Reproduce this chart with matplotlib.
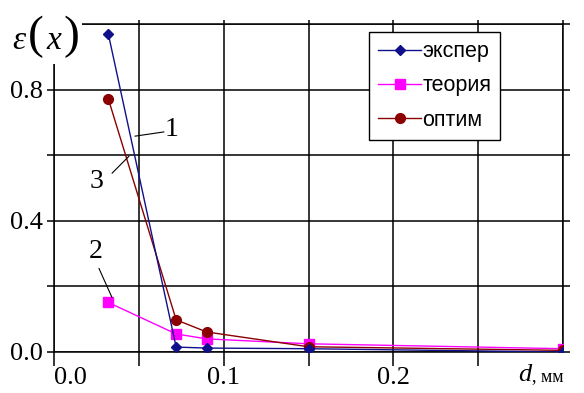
import matplotlib
matplotlib.use("Agg")
import matplotlib.pyplot as plt
from matplotlib.patches import Rectangle

# data
d_mm = [0.032, 0.072, 0.09, 0.15, 0.30]
eksper = [0.97, 0.015, 0.012, 0.01, 0.0]
teoria = [0.151, 0.055, 0.04, 0.025, 0.01]
optim = [0.772, 0.098, 0.061, 0.016, 0.005]
series_names = ["экспер", "теория", "оптим"]
xticks = [0.0, 0.05, 0.1, 0.15, 0.2, 0.25, 0.3]
xticklabels = ["0.0", "", "0.1", "", "0.2", "", ""]
yticks = [0.0, 0.2, 0.4, 0.6, 0.8, 1.0]
yticklabels = ["0.0", "", "0.4", "", "0.8", ""]

serif = ["Liberation Serif", "DejaVu Serif"]
sans = ["Liberation Sans", "DejaVu Sans"]

W, H = 584, 393
fig = plt.figure(figsize=(5.84, 3.93), dpi=100)
ax = fig.add_axes([54/W, 41/H, 509/W, 328/H])

ax.plot(d_mm, eksper, color="#10108a", lw=1.0, marker="D", ms=5.5, label=series_names[0], zorder=4)
ax.plot(d_mm, teoria, color="#ff00ff", lw=1.0, marker="s", ms=6.5, label=series_names[1], zorder=3)
ax.plot(d_mm, optim, color="#8b0000", lw=1.0, marker="o", ms=7, label=series_names[2], zorder=3)

ax.set_xlim(0, 0.3)
ax.set_ylim(0, 1.0)
ax.set_xticks(xticks)
ax.set_xticklabels(xticklabels, family=serif, fontsize=19)
ax.set_yticks(yticks)
ax.set_yticklabels(yticklabels, family=serif, fontsize=19)
ax.get_xticklabels()[0].set_horizontalalignment("left")
ax.grid(True, color="black", lw=1.1)
for s in ax.spines.values():
    s.set_linewidth(1.1)
ax.tick_params(axis="x", which="both", direction="out", width=1.1, top=True, pad=1)
ax.tick_params(axis="x", which="major", length=10)
ax.tick_params(axis="y", which="both", direction="out", length=5, width=1.1, right=True, pad=3)
for t in ax.xaxis.get_major_ticks():
    t.tick2line.set_markersize(3)
ax.xaxis.get_major_ticks()[-1].tick1line.set_visible(False)

leg = ax.legend(loc="upper left", bbox_to_anchor=((369-54)/509, (352-32)/328),
                prop={"family": sans, "size": 15.5}, frameon=True, fancybox=False,
                edgecolor="black", framealpha=1, handlelength=2.0, labelspacing=0.62,
                borderpad=0.42, handletextpad=0.05, borderaxespad=0)
leg.get_frame().set_linewidth(1.0)

# annotations: number labels and leader lines
lbl = dict(family=serif, fontsize=20, ha="center", va="center")
ax.text(0.0695, 0.677, "1", **lbl)
ax.text(0.0253, 0.52, "3", **lbl)
ax.text(0.0247, 0.305, "2", **lbl)
lead = dict(arrowstyle="-", color="black", lw=0.8, shrinkA=0, shrinkB=0)
ax.annotate("", xy=(0.0477, 0.658), xytext=(0.0648, 0.671), arrowprops=lead)
ax.annotate("", xy=(0.0442, 0.597), xytext=(0.0342, 0.545), arrowprops=lead)
ax.annotate("", xy=(0.0342, 0.166), xytext=(0.0265, 0.255), arrowprops=lead)

# y label: epsilon(x) with tall parentheses on a white patch
fig.patches.append(Rectangle((6/W, 1 - 64/H), 76/W, 52/H, transform=fig.transFigure,
                             facecolor="white", edgecolor="none", zorder=5))
ytxt = dict(ha="center", va="center", zorder=6)
fig.text(19/W, 1 - 41/H, "ε", fontsize=24, style="italic", family=serif, **ytxt)
fig.text(36/W, 1 - 37/H, "(", fontsize=34, family=serif, **ytxt)
fig.text(54/W, 1 - 41/H, "x", fontsize=24, style="italic", family=serif, **ytxt)
fig.text(71/W, 1 - 37/H, ")", fontsize=34, family=serif, **ytxt)

# x label
fig.text(518/W, 1 - 381/H, "d", fontsize=19, style="italic", family=serif, ha="left", va="baseline",
         bbox=dict(facecolor="white", edgecolor="none", pad=1))
fig.text(532/W, 1 - 381/H, ", мм", fontsize=13, family=serif, ha="left", va="baseline")

fig.savefig("out.png", dpi=100)
